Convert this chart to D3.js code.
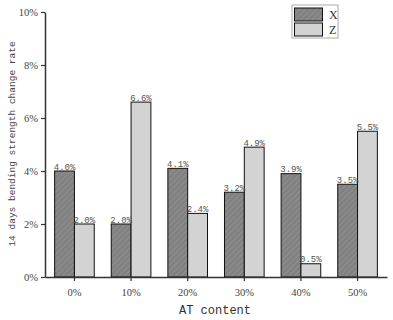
<!DOCTYPE html>
<html>
<head>
<meta charset="utf-8">
<script src="https://cdn.jsdelivr.net/npm/d3@7"></script>
<style>
  body { margin: 0; background: #fff; }
</style>
</head>
<body>
<div id="chart"></div>
<script>
// data
var categories = ["0%", "10%", "20%", "30%", "40%", "50%"];
var seriesNames = ["X", "Z"];
var xValues = [4.0, 2.0, 4.1, 3.2, 3.9, 3.5];
var zValues = [2.0, 6.6, 2.4, 4.9, 0.5, 5.5];
var yTicks = [0, 2, 4, 6, 8, 10];

var width = 393,
    height = 320;

var fills = { X: "url(#hatch)", Z: "#d3d3d3" };

var svg = d3.select("#chart")
  .append("svg")
    .attr("width", width)
    .attr("height", height);

// hatched fill for X
var pat = svg.append("defs").append("pattern")
    .attr("id", "hatch")
    .attr("patternUnits", "userSpaceOnUse")
    .attr("width", 4)
    .attr("height", 4)
    .attr("patternTransform", "rotate(45)");
pat.append("rect").attr("width", 4).attr("height", 4).attr("fill", "#818181");
pat.append("line")
    .attr("x1", 0).attr("y1", 0).attr("x2", 0).attr("y2", 4)
    .attr("stroke", "#959595").attr("stroke-width", 1.5);

var y = d3.scaleLinear().domain([0, 10]).range([277, 12]);

var x0 = d3.scaleBand()
    .domain(categories)
    .range([45, 387])
    .paddingInner(0.3)
    .paddingOuter(0.17);

var x1 = d3.scaleBand()
    .domain(seriesNames)
    .range([0, x0.bandwidth()]);

var rows = categories.map(function(c, i){
  return { cat: c, vals: [ {key: "X", value: xValues[i]}, {key: "Z", value: zValues[i]} ] };
});

// bars
var groups = svg.append("g").selectAll("g")
    .data(rows)
    .join("g")
    .attr("transform", d => "translate(" + x0(d.cat) + ",0)");

groups.selectAll("rect")
    .data(d => d.vals)
    .join("rect")
    .attr("x", d => x1(d.key))
    .attr("y", d => y(d.value))
    .attr("width", x1.bandwidth())
    .attr("height", d => y(0) - y(d.value))
    .attr("fill", d => fills[d.key])
    .attr("stroke", "#111")
    .attr("stroke-width", 1);

// value labels
groups.selectAll("text")
    .data(d => d.vals)
    .join("text")
    .attr("x", d => x1(d.key) + x1.bandwidth() / 2)
    .attr("y", d => y(d.value) - 1.5)
    .attr("text-anchor", "middle")
    .attr("font-family", "Liberation Mono, monospace")
    .attr("font-size", 9)
    .attr("fill", "#555")
    .text(d => d.value.toFixed(1) + "%");

// axes
var yAxis = svg.append("g")
    .attr("transform", "translate(45,0)")
    .call(d3.axisLeft(y).tickValues(yTicks).tickFormat(d => d + "%").tickSize(4).tickSizeOuter(0));

var xAxis = svg.append("g")
    .attr("transform", "translate(0,277)")
    .call(d3.axisBottom(x0).tickSize(4).tickSizeOuter(0));

[yAxis, xAxis].forEach(function(a){
  a.select(".domain").attr("stroke", "#333").attr("stroke-width", 1.5);
  a.selectAll(".tick line").attr("stroke", "#333").attr("stroke-width", 1.2);
  a.selectAll(".tick text")
    .attr("font-family", "Liberation Serif, serif")
    .attr("font-size", 10.5)
    .attr("fill", "#444");
});
xAxis.selectAll(".tick text").attr("dy", "1.1em");

// axis titles
svg.append("text")
    .attr("x", 215)
    .attr("y", 314)
    .attr("text-anchor", "middle")
    .attr("font-family", "Liberation Mono, monospace")
    .attr("font-size", 12)
    .attr("fill", "#333")
    .text("AT content");

svg.append("text")
    .attr("transform", "translate(15,144) rotate(-90)")
    .attr("text-anchor", "middle")
    .attr("font-family", "Liberation Mono, monospace")
    .attr("font-size", 9.5)
    .attr("fill", "#444")
    .text("14 days bending strength change rate");

// legend
var legend = svg.append("g").attr("transform", "translate(292,5)");
legend.append("rect")
    .attr("width", 46).attr("height", 33)
    .attr("fill", "#fff").attr("stroke", "#aaa").attr("stroke-width", 1);
legend.selectAll("rect.sw")
    .data(seriesNames)
    .join("rect")
    .attr("class", "sw")
    .attr("x", 2.5)
    .attr("y", (d, i) => 3 + i * 15)
    .attr("width", 28)
    .attr("height", 13)
    .attr("fill", d => fills[d])
    .attr("stroke", "#111");
legend.selectAll("text")
    .data(seriesNames)
    .join("text")
    .attr("x", 37)
    .attr("y", (d, i) => 14 + i * 15)
    .attr("font-family", "Liberation Serif, serif")
    .attr("font-size", 12)
    .attr("fill", "#333")
    .text(d => d);
</script>
</body>
</html>
